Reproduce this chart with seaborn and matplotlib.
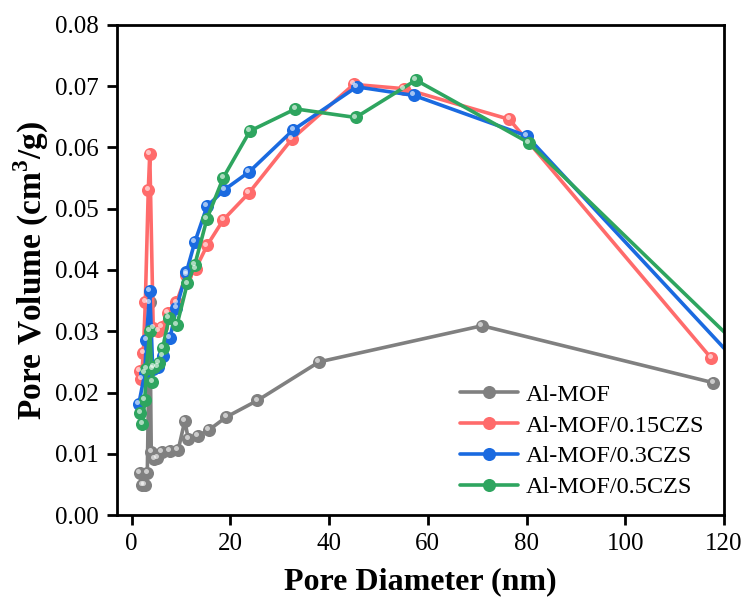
import numpy as np
import pandas as pd
import matplotlib
matplotlib.use("Agg")
import matplotlib.pyplot as plt
import matplotlib.transforms as mtransforms
import seaborn as sns

# ---- data ----
x_mof = [1.7, 2.2, 2.7, 3.2, 3.7, 4.0, 4.6, 5.2, 6.1, 7.8, 9.45, 10.8, 11.5, 13.4, 15.7, 19.2, 25.5, 38.0, 71.0, 117.8]
y_mof = [0.0068, 0.0049, 0.0049, 0.0068, 0.0347, 0.0103, 0.0091, 0.0093, 0.0103, 0.0105, 0.0106, 0.0154, 0.0124,
         0.0129, 0.0139, 0.0160, 0.0187, 0.0250, 0.0309, 0.0216]

x_015 = [1.7, 2.0, 2.4, 2.8, 3.4, 3.7, 4.4, 5.4, 6.1, 7.4, 9.1, 11.1, 13.0, 15.3, 18.6, 23.7, 32.5, 45.0, 55.2, 76.5, 117.4]
y_015 = [0.0235, 0.0222, 0.0265, 0.0348, 0.0531, 0.0590, 0.0305, 0.0301, 0.0307, 0.0330, 0.0347, 0.0392, 0.0402,
         0.0440, 0.0482, 0.0525, 0.0614, 0.0703, 0.0696, 0.0646, 0.0256]

x_03 = [1.5, 2.7, 3.0, 3.7, 4.3, 5.3, 6.4, 7.8, 9.1, 11.1, 12.8, 15.3, 18.8, 23.8, 32.8, 45.6, 57.2, 80.0, 125.0]
y_03 = [0.0182, 0.0232, 0.0285, 0.0366, 0.0238, 0.0242, 0.0260, 0.0289, 0.0338, 0.0396, 0.0445, 0.0504, 0.0531,
        0.0560, 0.0629, 0.0699, 0.0685, 0.0619, 0.0229]

x_05 = [1.8, 2.2, 2.7, 3.0, 3.7, 4.2, 4.5, 5.6, 6.3, 7.6, 9.2, 11.3, 12.8, 15.3, 18.6, 24.0, 33.2, 45.4, 57.6, 80.4, 125.0]
y_05 = [0.0166, 0.0149, 0.0188, 0.0238, 0.0300, 0.0217, 0.0241, 0.0248, 0.0272, 0.0322, 0.0310, 0.0378, 0.0408,
        0.0484, 0.0551, 0.0627, 0.0663, 0.0649, 0.0710, 0.0608, 0.0260]

labels = ["Al-MOF", "Al-MOF/0.15CZS", "Al-MOF/0.3CZS", "Al-MOF/0.5CZS"]
colors = ["#808080", "#FF6B6B", "#1A6AE0", "#2EA55F"]
xticks = [0, 20, 40, 60, 80, 100, 120]
yticks = [0.00, 0.01, 0.02, 0.03, 0.04, 0.05, 0.06, 0.07, 0.08]

series = [(x_mof, y_mof), (x_015, y_015), (x_03, y_03), (x_05, y_05)]

sns.set_theme(style="ticks")
plt.rcParams["font.family"] = ["Liberation Serif", "DejaVu Serif"]
plt.rcParams["mathtext.fontset"] = "custom"
plt.rcParams["mathtext.rm"] = "Liberation Serif"
plt.rcParams["mathtext.bf"] = "Liberation Serif:bold"
plt.rcParams["text.color"] = "black"
plt.rcParams["axes.labelcolor"] = "black"
plt.rcParams["xtick.color"] = "black"
plt.rcParams["ytick.color"] = "black"

fig = plt.figure(figsize=(7.48, 6.02), dpi=100)
ax = fig.add_axes([0.156, 0.1445, 0.812, 0.814])

highlight = mtransforms.offset_copy(ax.transData, fig=fig, x=-1.2, y=1.4, units="points")

for (xs, ys), lab, col in zip(series, labels, colors):
    df = pd.DataFrame({"x": xs, "y": ys})
    sns.lineplot(data=df, x="x", y="y", ax=ax, sort=False, estimator=None,
                 color=col, linewidth=2.6, marker="o", markersize=9.4,
                 markeredgewidth=0, label=lab, clip_on=True)
    ax.plot(xs, ys, linestyle="none", marker="o", markersize=3.6, color="white",
            alpha=0.6, markeredgewidth=0, transform=highlight, zorder=5)

ax.set_xlim(-3, 120)
ax.set_ylim(0, 0.08)
ax.set_xticks(xticks)
ax.set_yticks(yticks)
ax.set_xticklabels([str(t) for t in xticks])
ax.set_yticklabels([f"{t:.2f}" for t in yticks])

for sp in ax.spines.values():
    sp.set_visible(True)
    sp.set_linewidth(2.0)
    sp.set_color("black")

ax.tick_params(axis="both", which="major", direction="out", length=7, width=2,
               pad=6, labelsize=18, colors="black", top=False, right=False)

ax.set_xlabel("Pore Diameter (nm)", fontsize=23, fontweight="bold", labelpad=9, color="black")
ax.set_ylabel("Pore Volume (cm$^{\\mathbf{3}}$/g)", fontsize=24, fontweight="bold", labelpad=3, color="black")

leg = ax.legend(loc="lower right", bbox_to_anchor=(1.003, -0.01), frameon=False,
                fontsize=17.5, handlelength=2.4, handletextpad=0.3, labelspacing=0.36,
                labelcolor="black")

fig.savefig("out.png", dpi=100, facecolor="white")
